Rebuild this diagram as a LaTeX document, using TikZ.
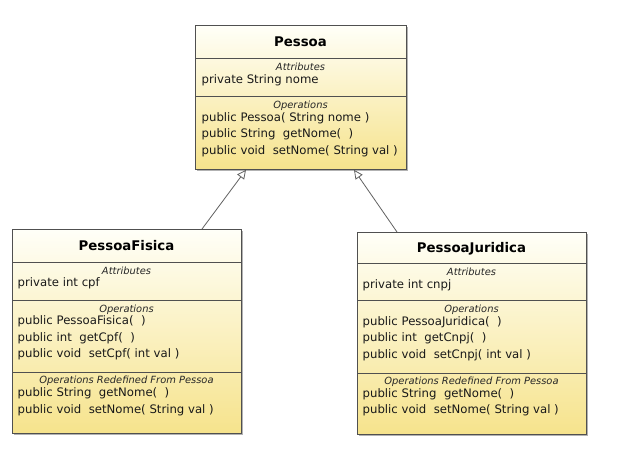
\documentclass[tikz,border=0pt]{standalone}
\usepackage{fontspec}
\setmainfont{DejaVu Sans}
\usetikzlibrary{arrows.meta,shadows}
\definecolor{boxtop}{RGB}{255,255,248}
\definecolor{boxbot}{RGB}{246,227,140}
\definecolor{edge}{RGB}{80,80,80}
\tikzset{
  cls/.style={draw=edge, line width=0.8pt, rectangle, anchor=north west, inner sep=0pt,
    top color=boxtop, bottom color=boxbot,
    drop shadow={shadow xshift=1.2pt, shadow yshift=-1.2pt, opacity=.3, fill=black}},
  sep/.style={draw=edge, line width=0.8pt},
  ttl/.style={anchor=base, inner sep=0pt, font=\fontsize{13.3}{15}\selectfont\bfseries},
  lbl/.style={anchor=mid, inner sep=0pt, font=\fontsize{9.9}{11}\selectfont\itshape, text=black!85},
  txt/.style={anchor=mid west, inner sep=0pt, font=\fontsize{11.7}{13}\selectfont, text=black!90},
  inh/.style={draw=edge!90, line width=0.8pt, -{Triangle[open, length=9pt, width=8.5pt, fill=white]}}
}
\begin{document}
\begin{tikzpicture}[x=1pt,y=-1pt]
\useasboundingbox[fill=white] (0,0) rectangle (617,448);

% ---------- Pessoa ----------
\node[cls, minimum width=211pt, minimum height=144pt] (pessoa) at (195,25) {};
\draw[sep] (195,58) -- (406,58);
\draw[sep] (195,96) -- (406,96);
\node[ttl] (pt) at (300.5,46.5) {Pessoa};
\node[lbl] (pa) at (300.5,67.5) {Attributes};
\node[txt] (pa1) at (201.5,81) {private String nome};
\node[lbl] (po) at (300.5,105.5) {Operations};
\node[txt] (po1) at (201.5,118.5) {public Pessoa( String nome )};
\node[txt] (po2) at (201.5,135) {public String\ \ getNome(\ \ )};
\node[txt] (po3) at (201.5,151.5) {public void\ \ setNome( String val )};

% ---------- PessoaFisica ----------
\node[cls, minimum width=229pt, minimum height=204pt] (fisica) at (12,229) {};
\draw[sep] (12,262) -- (241,262);
\draw[sep] (12,300) -- (241,300);
\draw[sep] (12,372) -- (241,372);
\node[ttl] (ft) at (126.5,250.5) {PessoaFisica};
\node[lbl] (fa) at (126.5,271.5) {Attributes};
\node[txt] (fa1) at (17.5,284) {private int cpf};
\node[lbl] (fo) at (126.5,309.5) {Operations};
\node[txt] (fo1) at (17.5,322) {public PessoaFisica(\ \ )};
\node[txt] (fo2) at (17.5,338.5) {public int\ \ getCpf(\ \ )};
\node[txt] (fo3) at (17.5,355) {public void\ \ setCpf( int val )};
\node[lbl] (fr) at (126.5,381) {Operations Redefined From Pessoa};
\node[txt] (fr1) at (17.5,394) {public String\ \ getNome(\ \ )};
\node[txt] (fr2) at (17.5,410.5) {public void\ \ setNome( String val )};

% ---------- PessoaJuridica ----------
\node[cls, minimum width=229pt, minimum height=202pt] (juridica) at (357,232) {};
\draw[sep] (357,263) -- (586,263);
\draw[sep] (357,300) -- (586,300);
\draw[sep] (357,373) -- (586,373);
\node[ttl] (jt) at (471.5,252) {PessoaJuridica};
\node[lbl] (ja) at (471.5,272.5) {Attributes};
\node[txt] (ja1) at (362.5,285.5) {private int cnpj};
\node[lbl] (jo) at (471.5,309.5) {Operations};
\node[txt] (jo1) at (362.5,322.5) {public PessoaJuridica(\ \ )};
\node[txt] (jo2) at (362.5,339) {public int\ \ getCnpj(\ \ )};
\node[txt] (jo3) at (362.5,355.5) {public void\ \ setCnpj( int val )};
\node[lbl] (jr) at (471.5,382) {Operations Redefined From Pessoa};
\node[txt] (jr1) at (362.5,394.5) {public String\ \ getNome(\ \ )};
\node[txt] (jr2) at (362.5,411) {public void\ \ setNome( String val )};

% ---------- generalisations ----------
\draw[inh] ([xshift=190pt]fisica.north west) -- ([xshift=51pt]pessoa.south west);
\draw[inh] ([xshift=40pt]juridica.north west) -- ([xshift=159pt]pessoa.south west);
\end{tikzpicture}
\end{document}
